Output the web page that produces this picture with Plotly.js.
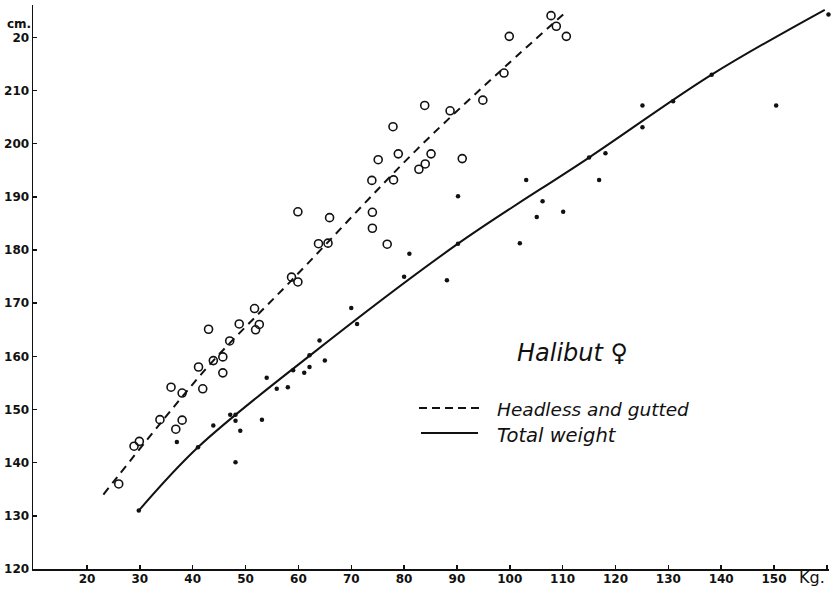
<!DOCTYPE html>
<html>
<head>
<meta charset="utf-8">
<script src="https://cdn.plot.ly/plotly-3.0.1.min.js"></script>
<style>html,body{margin:0;padding:0;background:#fff;}#chart{width:837px;height:592px;}</style>
</head>
<body>
<div id="chart"></div>
<script>
// Headless and gutted: observed points (kg, cm)
const hgWeight = [26.0,28.9,29.9,33.8,36.8,38.0,35.9,38.0,41.9,41.1,43.0,43.9,45.7,45.7,47.0,48.8,51.7,51.9,52.6,58.7,59.9,59.9,63.8,65.6,65.9,73.9,74.0,74.0,76.8,75.1,78.0,78.9,77.9,82.8,84.0,85.1,91.0,83.9,88.7,94.9,98.9,99.9,107.8,108.8,110.7];
const hgLength = [136.0,143.1,144.0,148.1,146.3,148.0,154.2,153.1,153.9,158.0,165.1,159.2,159.9,156.9,162.9,166.1,169.0,165.0,166.0,174.9,174.0,187.2,181.2,181.3,186.1,193.1,187.1,184.1,181.1,197.0,193.2,198.1,203.2,195.2,196.2,198.1,197.2,207.2,206.2,208.2,213.3,220.2,224.1,222.1,220.2];
// Total weight: observed points (kg, cm)
const twWeight = [29.8,37.0,41.0,43.9,47.1,48.1,48.1,48.1,49.0,53.1,54.0,55.9,58.0,59.0,61.1,62.1,62.1,64.0,65.0,70.0,71.1,80.0,81.0,88.1,90.2,90.2,101.9,103.1,105.1,106.2,110.1,115.0,116.9,118.1,125.1,125.1,130.9,138.2,150.4,160.3];
const twLength = [131.0,143.9,142.9,147.0,149.0,149.0,147.9,140.1,146.0,148.1,156.0,153.9,154.2,157.4,156.9,158.0,160.2,163.0,159.2,169.1,166.1,175.0,179.3,174.3,181.2,190.1,181.3,193.2,186.2,189.2,187.2,197.4,193.2,198.2,207.2,203.1,208.0,213.0,207.2,224.3];
// Fitted curves
const hgCurveW = [23.1,33.8,43.9,58.7,82.4,98.9,110.1];
const hgCurveL = [134.0,147.3,159.2,174.3,198.9,214.3,224.3];
const twCurveW = [29.8,41.0,62.1,90.2,115.0,138.2,159.6];
const twCurveL = [131.0,142.9,160.1,181.2,197.4,213.0,225.2];
// Axis ticks
const xTickVals = [20,30,40,50,60,70,80,90,100,110,120,130,140,150,160];
const xTickText = ["20","30","40","50","60","70","80","90","100","110","120","130","140","150",""];
const yTickVals = [120,130,140,150,160,170,180,190,200,210,220];
const yTickText = ["120","130","140","150","160","170","180","190","200","210","20"];
const legendLabels = ["Headless and gutted","Total weight"];
const titleText = "Halibut \u2640";

const ink = "#111";
const L = 33, R = 8, T = 5, B = 23, W = 837, H = 592;
const pw = W - L - R, ph = H - T - B;
const px = x => (x - L) / pw;
const py = y => (H - B - y) / ph;

const traces = [
  {x: hgCurveW, y: hgCurveL, mode: "lines", line: {color: ink, width: 2, dash: "8px,6px", shape: "spline", smoothing: 1}, hoverinfo: "skip"},
  {x: twCurveW, y: twCurveL, mode: "lines", line: {color: ink, width: 2, shape: "spline", smoothing: 1}, hoverinfo: "skip"},
  {x: hgWeight, y: hgLength, mode: "markers", cliponaxis: false, marker: {symbol: "circle-open", size: 8, color: ink, line: {width: 1.6, color: ink}}},
  {x: twWeight, y: twLength, mode: "markers", cliponaxis: false, marker: {symbol: "circle", size: 4.5, color: ink}}
];

const tickFont = {family: "DejaVu Sans", size: 12, color: ink, weight: "bold"};
const layout = {
  width: W, height: H,
  margin: {l: L, r: R, t: T, b: B, pad: 0},
  paper_bgcolor: "#fff", plot_bgcolor: "#fff",
  showlegend: false,
  xaxis: {range: [9.78, 160.4], showgrid: false, zeroline: false, showline: true, linecolor: ink, linewidth: 1.5,
          ticks: "inside", ticklen: 4, tickwidth: 1.5, tickcolor: ink, tickvals: xTickVals, ticktext: xTickText,
          tickfont: tickFont, ticklabelstandoff: -2},
  yaxis: {range: [120, 226.1], showgrid: false, zeroline: false, showline: true, linecolor: ink, linewidth: 1.5,
          ticks: "inside", ticklen: 4, tickwidth: 1.5, tickcolor: ink, tickvals: yTickVals, ticktext: yTickText,
          tickfont: tickFont, ticklabelstandoff: 0},
  shapes: [
    {type: "line", xref: "paper", yref: "paper", x0: px(419), x1: px(479), y0: py(408), y1: py(408), line: {color: ink, width: 2, dash: "8px,5px"}},
    {type: "line", xref: "paper", yref: "paper", x0: px(421), x1: px(478), y0: py(433), y1: py(433), line: {color: ink, width: 2}}
  ],
  annotations: [
    {xref: "paper", yref: "paper", x: px(495), y: py(409), xanchor: "left", yanchor: "middle", showarrow: false,
     text: legendLabels[0], font: {family: "DejaVu Sans", size: 18.5, style: "italic", color: ink}},
    {xref: "paper", yref: "paper", x: px(495), y: py(435), xanchor: "left", yanchor: "middle", showarrow: false,
     text: legendLabels[1], font: {family: "DejaVu Sans", size: 19.5, style: "italic", color: ink}},
    {xref: "paper", yref: "paper", x: px(515), y: py(353), xanchor: "left", yanchor: "middle", showarrow: false,
     text: titleText, font: {family: "DejaVu Sans", size: 24, style: "italic", color: ink}},
    {xref: "paper", yref: "paper", x: px(19), y: py(24), xanchor: "center", yanchor: "middle", showarrow: false,
     text: "cm.", font: {family: "DejaVu Sans", size: 12, weight: "bold", color: ink}},
    {xref: "paper", yref: "paper", x: px(812), y: py(577), xanchor: "center", yanchor: "middle", showarrow: false,
     text: "Kg.", font: {family: "DejaVu Sans", size: 16, color: ink}}
  ]
};

Plotly.newPlot("chart", traces, layout, {displayModeBar: false, staticPlot: true});
</script>
</body>
</html>
